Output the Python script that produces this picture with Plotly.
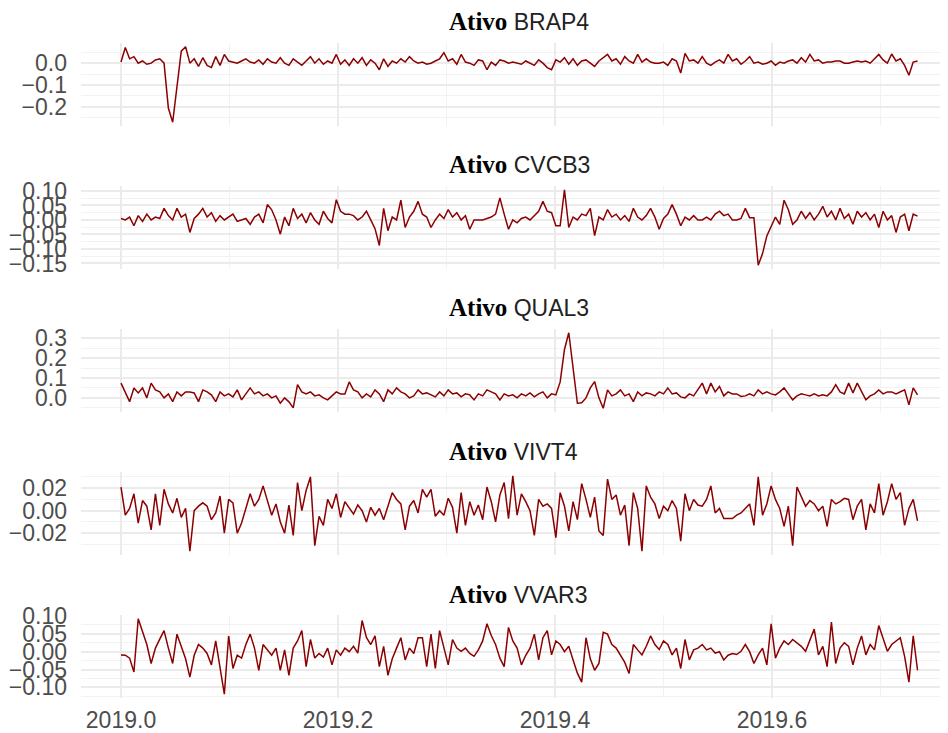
import plotly.graph_objects as go

# ---------------- data ----------------
tickers = ["BRAP4", "CVCB3", "QUAL3", "VIVT4", "VVAR3"]
start_year = 2019.0
frequency = 252

brap4 = [0.005, 0.072, 0.020, 0.030, 0.000, 0.010, -0.005, 0.000, 0.015, 0.020,
         0.000, -0.205, -0.270, -0.120, 0.055, 0.075, 0.000, 0.020, -0.015, 0.025,
         -0.010, -0.020, 0.030, -0.010, 0.040, 0.010, 0.005, 0.000, 0.010, 0.020,
         0.005, 0.000, 0.015, -0.005, 0.020, 0.005, 0.000, 0.025, 0.000, -0.010,
         0.020, 0.005, -0.010, 0.010, 0.030, 0.000, 0.020, -0.005, 0.010, 0.000,
         0.040, -0.005, 0.015, -0.010, 0.020, 0.000, 0.025, -0.010, 0.015, 0.000,
         -0.030, 0.020, -0.015, 0.010, 0.000, 0.020, 0.005, 0.030, 0.010, 0.000,
         0.005, -0.005, 0.000, 0.010, 0.020, 0.048, 0.010, 0.020, -0.005, 0.040,
         0.005, 0.000, -0.010, 0.015, 0.010, -0.030, 0.005, -0.010, 0.015, 0.010,
         0.000, 0.005, 0.000, -0.005, 0.010, 0.000, -0.010, 0.015, 0.000, -0.020,
         -0.030, 0.015, 0.005, 0.025, -0.005, 0.020, -0.010, 0.010, 0.015, 0.000,
         -0.015, 0.010, 0.025, 0.040, 0.010, 0.020, -0.005, 0.030, 0.010, 0.000,
         0.040, 0.005, 0.020, 0.005, 0.000, 0.000, 0.005, -0.010, 0.020, 0.010,
         -0.045, 0.045, 0.010, 0.015, 0.000, 0.030, 0.000, -0.010, 0.005, 0.015,
         0.000, 0.040, 0.010, 0.020, -0.005, 0.010, 0.030, 0.000, 0.005, -0.005,
         0.000, 0.010, -0.010, 0.005, 0.000, 0.010, 0.015, 0.000, 0.025, 0.005,
         0.040, 0.010, 0.015, 0.000, 0.005, 0.005, 0.010, 0.010, 0.000, 0.000,
         0.005, 0.010, 0.005, 0.010, 0.000, 0.020, 0.040, 0.015, 0.000, 0.042,
         0.010, 0.020, -0.010, -0.055, 0.005, 0.010]

cvcb3 = [0.005, 0.000, 0.010, -0.020, 0.015, -0.005, 0.020, 0.000, 0.010, 0.005,
         0.040, 0.015, 0.000, 0.040, 0.010, 0.020, -0.043, 0.005, 0.020, 0.040,
         0.010, 0.025, -0.005, 0.015, 0.000, 0.010, 0.020, -0.005, 0.000, 0.005,
         -0.015, 0.010, 0.020, -0.010, 0.053, 0.035, 0.000, -0.049, 0.010, -0.020,
         0.040, 0.005, 0.020, -0.010, 0.025, 0.000, -0.015, 0.030, 0.005, -0.010,
         0.070, 0.030, 0.020, 0.020, 0.015, 0.000, 0.010, 0.030, 0.000, -0.030,
         -0.088, 0.040, -0.037, 0.010, 0.000, 0.068, -0.026, 0.010, 0.030, 0.064,
         0.020, 0.010, -0.026, 0.000, 0.020, 0.005, 0.036, 0.010, 0.025, 0.000,
         0.015, -0.032, 0.000, 0.000, 0.000, 0.005, 0.010, 0.020, 0.076, 0.020,
         -0.032, 0.000, -0.010, 0.005, 0.010, 0.000, 0.015, 0.030, 0.064, 0.030,
         0.025, -0.020, -0.020, 0.104, -0.026, 0.010, 0.000, 0.020, 0.015, 0.040,
         -0.054, 0.010, 0.000, 0.036, 0.010, 0.020, 0.000, 0.015, -0.005, 0.040,
         0.010, 0.000, 0.015, 0.040, 0.010, -0.032, 0.005, 0.020, 0.053, 0.020,
         -0.020, 0.010, 0.000, 0.015, 0.000, 0.000, 0.010, 0.000, 0.020, 0.030,
         0.015, 0.020, 0.000, 0.000, 0.005, 0.040, 0.008, 0.008, -0.156, -0.116,
         -0.055, -0.020, 0.010, -0.015, 0.068, 0.035, -0.015, 0.000, 0.030, 0.005,
         0.025, 0.000, 0.020, 0.047, 0.010, 0.030, 0.000, 0.040, 0.005, 0.020,
         -0.015, 0.030, 0.010, 0.025, 0.000, 0.020, -0.026, 0.030, 0.000, 0.015,
         -0.043, 0.010, 0.020, -0.037, 0.020, 0.013]

qual3 = [0.074, 0.030, -0.019, 0.050, 0.025, 0.050, 0.000, 0.074, 0.040, 0.030,
         0.000, 0.020, -0.019, 0.030, 0.010, 0.030, 0.030, 0.025, -0.019, 0.040,
         0.030, 0.015, -0.019, 0.030, 0.010, 0.020, 0.005, 0.040, -0.010, 0.020,
         0.050, 0.020, 0.030, 0.010, 0.020, 0.000, 0.010, -0.027, 0.000, -0.020,
         -0.050, 0.066, 0.030, 0.020, 0.030, 0.010, 0.015, 0.000, -0.010, 0.010,
         0.030, 0.020, 0.020, 0.080, 0.040, 0.030, 0.000, 0.020, 0.005, 0.040,
         0.020, -0.019, 0.040, 0.020, 0.050, 0.030, 0.020, 0.000, 0.010, 0.040,
         0.020, 0.025, 0.015, 0.005, 0.030, 0.010, 0.040, 0.020, 0.025, 0.005,
         0.020, 0.015, -0.010, 0.020, 0.010, 0.040, 0.030, 0.020, -0.010, 0.020,
         0.010, 0.015, 0.000, 0.020, 0.010, 0.025, 0.005, 0.020, 0.030, 0.000,
         0.020, 0.015, 0.080, 0.243, 0.327, 0.140, -0.027, -0.025, 0.000, 0.050,
         0.082, 0.000, -0.052, 0.040, 0.010, 0.020, 0.040, 0.010, 0.020, -0.019,
         0.030, 0.010, 0.025, 0.020, 0.010, 0.030, 0.020, 0.050, 0.020, 0.025,
         0.005, 0.000, 0.020, 0.010, 0.040, 0.074, 0.020, 0.074, 0.030, 0.057,
         0.010, 0.030, 0.020, 0.020, 0.007, 0.010, 0.020, 0.010, 0.040, 0.020,
         0.030, 0.020, 0.015, 0.030, 0.050, 0.020, -0.010, 0.010, 0.020, 0.015,
         0.010, 0.020, 0.010, 0.015, 0.010, 0.030, 0.066, 0.030, 0.020, 0.074,
         0.025, 0.074, 0.030, -0.010, 0.010, 0.020, 0.040, 0.020, 0.030, 0.030,
         0.020, 0.030, 0.040, -0.035, 0.050, 0.015]

vivt4 = [0.021, -0.004, 0.002, 0.015, -0.011, 0.009, 0.004, -0.017, 0.015, -0.013,
         0.019, 0.006, -0.002, 0.011, -0.006, 0.002, -0.036, 0.000, 0.004, 0.007,
         0.004, -0.008, -0.002, 0.013, -0.020, 0.010, 0.007, -0.020, -0.011, 0.002,
         0.015, 0.004, 0.010, 0.022, 0.008, -0.004, 0.006, -0.010, -0.020, 0.005,
         -0.022, 0.025, 0.000, 0.018, 0.030, -0.031, -0.005, -0.013, 0.010, 0.002,
         0.015, -0.006, 0.008, 0.002, -0.003, 0.005, 0.000, -0.010, 0.003, -0.004,
         0.002, -0.008, 0.005, 0.016, 0.010, 0.006, -0.017, 0.004, 0.009, -0.002,
         0.019, 0.012, 0.019, -0.005, 0.000, -0.004, 0.011, 0.003, -0.020, 0.016,
         -0.013, 0.008, -0.004, 0.005, -0.008, 0.021, 0.008, -0.010, 0.014, 0.025,
         -0.007, 0.031, -0.004, 0.015, 0.008, 0.000, -0.022, 0.010, 0.004, 0.006,
         0.002, -0.024, 0.016, 0.004, -0.018, 0.008, -0.008, 0.024, 0.010, -0.006,
         0.012, -0.018, -0.022, 0.028, 0.010, 0.014, -0.004, 0.005, -0.031, 0.016,
         0.002, -0.036, 0.022, 0.012, 0.006, -0.007, 0.004, 0.000, 0.009, 0.002,
         -0.027, 0.015, 0.000, 0.010, 0.005, 0.004, 0.010, 0.022, -0.002, 0.002,
         -0.007, -0.007, -0.007, -0.004, -0.002, 0.002, 0.006, -0.013, 0.030, -0.004,
         0.006, 0.022, 0.010, 0.002, -0.014, 0.004, -0.031, 0.021, 0.012, 0.004,
         0.009, 0.006, 0.000, 0.004, -0.014, 0.010, 0.006, 0.008, 0.011, 0.010,
         -0.008, 0.004, 0.010, -0.017, 0.006, -0.002, 0.024, -0.004, 0.008, 0.024,
         0.010, 0.016, -0.013, 0.002, 0.010, -0.009]

vvar3 = [-0.009, -0.010, -0.018, -0.057, 0.092, 0.054, 0.020, -0.033, 0.010, 0.035,
         0.059, 0.010, -0.033, 0.049, 0.015, -0.020, -0.071, -0.010, 0.020, 0.010,
         -0.005, -0.037, 0.030, -0.042, -0.119, 0.044, -0.047, -0.010, -0.018, 0.020,
         0.049, 0.010, -0.052, 0.020, 0.006, -0.010, 0.010, -0.052, 0.005, -0.066,
         0.010, 0.030, 0.059, -0.042, 0.034, -0.018, -0.005, -0.015, 0.010, -0.037,
         0.005, -0.010, 0.010, 0.000, 0.015, -0.004, 0.087, 0.040, 0.020, 0.044,
         -0.042, 0.015, -0.066, -0.020, 0.010, 0.039, -0.023, 0.010, -0.005, 0.039,
         0.039, -0.042, 0.049, -0.047, 0.059, 0.010, -0.037, 0.034, 0.010, 0.001,
         0.010, -0.005, -0.013, 0.005, 0.030, 0.078, 0.045, 0.020, -0.018, -0.042,
         0.068, 0.030, 0.010, -0.037, -0.010, 0.010, 0.049, -0.023, 0.039, 0.059,
         -0.009, 0.030, 0.020, 0.000, 0.015, -0.023, -0.060, -0.085, 0.039, -0.020,
         -0.052, -0.033, 0.054, 0.049, 0.020, 0.010, -0.009, -0.030, -0.061, 0.020,
         0.005, -0.009, 0.015, 0.044, 0.020, 0.006, 0.030, 0.020, -0.009, 0.010,
         -0.047, 0.034, -0.023, 0.005, 0.010, 0.020, 0.005, 0.010, -0.004, 0.000,
         -0.023, -0.010, -0.005, -0.008, 0.001, 0.020, 0.000, -0.033, -0.009, 0.010,
         -0.037, 0.078, -0.018, 0.010, 0.030, 0.020, 0.034, 0.025, 0.015, 0.001,
         0.030, 0.063, -0.009, 0.015, -0.042, 0.083, -0.033, 0.010, 0.025, 0.015,
         -0.037, 0.010, 0.044, -0.009, 0.020, 0.005, 0.073, 0.040, 0.001, 0.020,
         0.030, 0.039, -0.013, -0.085, 0.044, -0.052]

series = [brap4, cvcb3, qual3, vivt4, vvar3]
y_dticks = [0.1, 0.05, 0.1, 0.02, 0.05]
y_formats = [".1f", ".2f", ".1f", ".2f", ".2f"]
x_tickvals = [2019.0, 2019.2, 2019.4, 2019.6]

# ---------------- layout geometry ----------------
# The page body has an 8px margin, so the figure is 940x725 and all
# pixel positions below are measured from the figure's own corner.
W, H = 940, 725
panels_px = [(35, 118), (178, 261), (321, 404), (464, 547), (607, 690)]
left_px, right_px = 73, 932
px_per_year = 1085.0
x_zero_px = 113
x_range = [start_year - (x_zero_px - left_px) / px_per_year,
           start_year + (right_px - x_zero_px) / px_per_year]

LINE = "#8B0000"
GRID = "#ebebeb"
GRID_MINOR = "#f2f2f2"
TICK_COLOR = "#4d4d4d"
FONT = "Liberation Sans"
TICK_SIZE = 23

fig = go.Figure()
annotations = []
layout = {}

for k, (name, vals, dt, fmt) in enumerate(zip(tickers, series, y_dticks, y_formats)):
    idx = "" if k == 0 else str(k + 1)
    xs = [start_year + i / frequency for i in range(len(vals))]
    fig.add_trace(go.Scatter(
        x=xs, y=vals, mode="lines",
        line=dict(color=LINE, width=1.5),
        xaxis="x" + idx, yaxis="y" + idx, showlegend=False,
        hoverinfo="skip"))
    top, bot = panels_px[k]
    lo, hi = min(vals), max(vals)
    span = hi - lo
    yr = [lo - 0.05 * span, hi + 0.05 * span]
    last = (k == len(tickers) - 1)
    layout["xaxis" + idx] = dict(
        domain=[left_px / W, right_px / W], anchor="y" + idx,
        range=x_range, tickvals=x_tickvals, tickformat=".1f",
        showticklabels=last, showgrid=True, gridcolor=GRID, gridwidth=1.6,
        minor=dict(dtick=0.1, tick0=2019.0, showgrid=True, gridcolor=GRID_MINOR, gridwidth=1),
        zeroline=False, showline=False, ticks="",
        tickfont=dict(family=FONT, size=TICK_SIZE, color=TICK_COLOR),
        ticklabelstandoff=6, automargin=False, fixedrange=True)
    layout["yaxis" + idx] = dict(
        domain=[1 - bot / H, 1 - top / H], anchor="x" + idx,
        range=yr, dtick=dt, tick0=0, tickformat=fmt,
        showgrid=True, gridcolor=GRID, gridwidth=1.6,
        minor=dict(dtick=dt / 2, tick0=0, showgrid=True, gridcolor=GRID_MINOR, gridwidth=1),
        zeroline=False, showline=False, ticks="",
        tickfont=dict(family=FONT, size=TICK_SIZE, color=TICK_COLOR),
        ticklabelstandoff=13, automargin=False, fixedrange=True)
    annotations.append(dict(
        xref="paper", yref="paper",
        x=439 / W, y=1 - (top - 21) / H,
        xanchor="left", yanchor="middle", showarrow=False,
        text='<span style="font-family:Liberation Serif;font-weight:bold;color:#000000;font-size:25px">Ativo</span> ' + name,
        font=dict(family=FONT, size=23, color="#222222")))

fig.update_layout(
    width=W, height=H,
    margin=dict(l=0, r=0, t=0, b=0),
    paper_bgcolor="white", plot_bgcolor="white",
    annotations=annotations, **layout)

fig.write_html("out.html")
